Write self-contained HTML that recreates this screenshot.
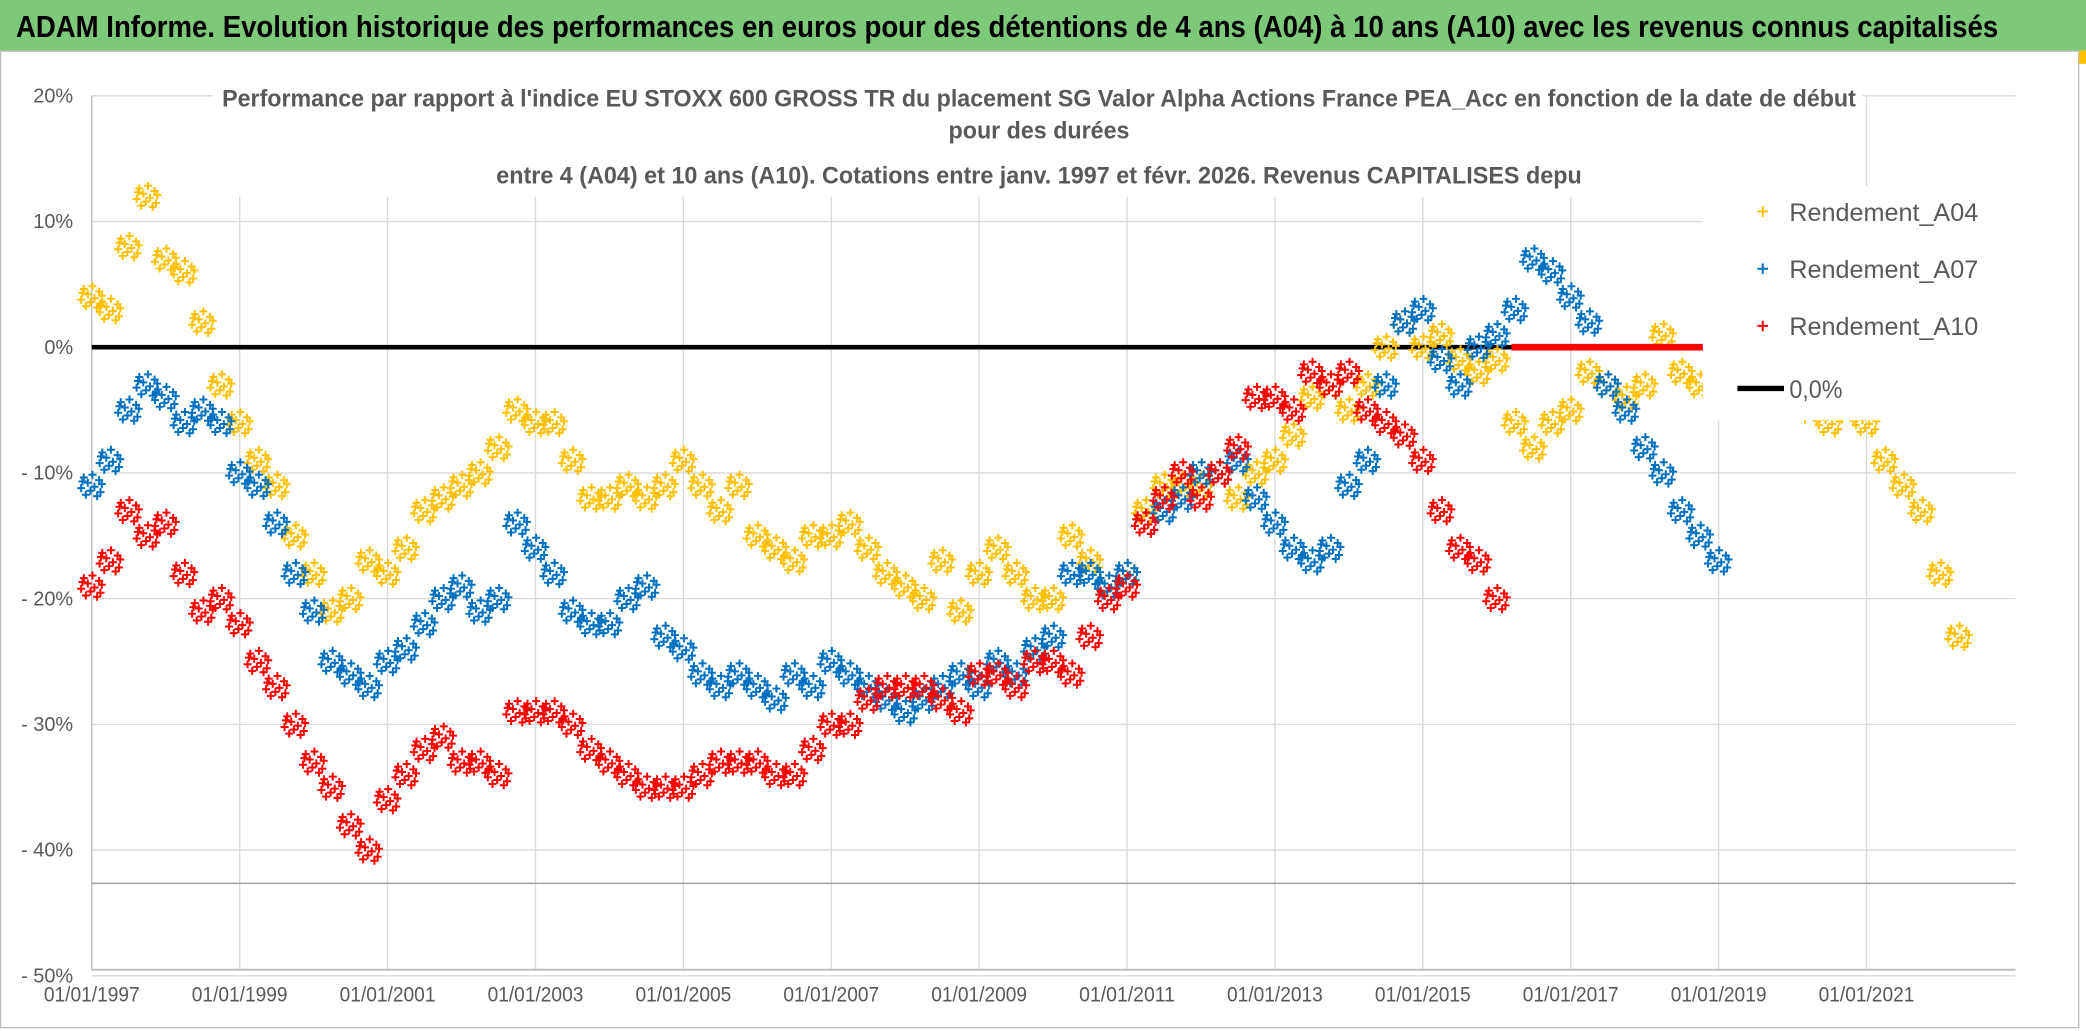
<!DOCTYPE html>
<html><head><meta charset="utf-8"><style>
html,body{margin:0;padding:0;background:#fff;overflow:hidden}
svg{display:block}
text{font-family:"Liberation Sans Narrow","Liberation Sans",sans-serif}
</style></head><body>
<svg id="chart" width="2086" height="1031" viewBox="0 0 1568 775" preserveAspectRatio="none" xmlns="http://www.w3.org/2000/svg">
<rect x="0" y="0" width="1568" height="775" fill="#fff"/>
<rect x="0" y="0" width="1568" height="38" fill="#7ec87a"/>
<text x="12" y="28" font-size="23" font-weight="bold" fill="#000" textLength="1490" lengthAdjust="spacingAndGlyphs">ADAM Informe. Evolution historique des performances en euros pour des détentions de 4 ans (A04) à 10 ans (A10) avec les revenus connus capitalisés</text>
<rect x="1562" y="38" width="6" height="10" fill="#ffc000"/>
<rect x="0.5" y="38.5" width="1562" height="734" fill="none" stroke="#bfbfbf"/>
<g id="grid"></g>
<g id="series"></g>
<rect x="160" y="60" width="1240" height="88" fill="#fff"/>
<g fill="#595959" font-size="18" font-weight="bold" text-anchor="middle">
<text x="781" y="80" textLength="1228" lengthAdjust="spacingAndGlyphs">Performance par rapport à l'indice EU STOXX 600 GROSS TR  du placement SG Valor Alpha Actions France PEA_Acc en fonction de la date de début</text>
<text x="781" y="104" textLength="136" lengthAdjust="spacingAndGlyphs">pour des durées</text>
<text x="781" y="138" textLength="816" lengthAdjust="spacingAndGlyphs">entre 4 (A04) et 10 ans (A10). Cotations entre janv. 1997 et févr. 2026. Revenus CAPITALISES depu</text>
</g>
<g id="legend">
<rect x="1280" y="140" width="236" height="176" fill="#fff"/>
<g><path d="M1321 159h8M1325 155v8" stroke="#ffc000" stroke-width="1.5"/><text x="1345" y="166" font-size="19" fill="#595959" textLength="142" lengthAdjust="spacingAndGlyphs">Rendement_A04</text></g>
<g><path d="M1321 202h8M1325 198v8" stroke="#0070c0" stroke-width="1.5"/><text x="1345" y="209" font-size="19" fill="#595959" textLength="142" lengthAdjust="spacingAndGlyphs">Rendement_A07</text></g>
<g><path d="M1321 245h8M1325 241v8" stroke="#ff0000" stroke-width="1.5"/><text x="1345" y="252" font-size="19" fill="#595959" textLength="142" lengthAdjust="spacingAndGlyphs">Rendement_A10</text></g>
<g><path d="M1306 292h35" stroke="#000" stroke-width="4"/><text x="1345" y="299" font-size="19" fill="#595959" textLength="40" lengthAdjust="spacingAndGlyphs">0,0%</text></g>
</g>
</svg>
<script>
const yTicks=[20,10,0,-10,-20,-30,-40,-50];
const yTickLabels=["20%","10%","0%","- 10%","- 20%","- 30%","- 40%","- 50%"];
const xTickYears=[1997,1999,2001,2003,2005,2007,2009,2011,2013,2015,2017,2019,2021];
const xTickLabels=["01/01/1997","01/01/1999","01/01/2001","01/01/2003","01/01/2005","01/01/2007","01/01/2009","01/01/2011","01/01/2013","01/01/2015","01/01/2017","01/01/2019","01/01/2021"];
const startYear=1997;
const stepYears=0.25;
const a04=[4,3,8,12,7,6,2,-3,-6,-9,-11,-15,-18,-21,-20,-17,-18,-16,-13,-12,-11,-10,-8,-5,-6,-6,-9,-12,-12,-11,-12,-11,-9,-11,-13,-11,-15,-16,-17,-15,-15,-14,-16,-18,-19,-20,-17,-21,-18,-16,-18,-20,-20,-15,-17,-19,-18,-13,-11,-11,-11,-10,-12,-10,-9,-7,-4,-3,-5,-3,0,2,0,1,-1,-2,-1,-6,-8,-6,-5,-2,-3,-4,-3,1,-2,-3,-1,0,-2,-3,-4,-5,-6,-5,-6,-9,-11,-13,-18,-23];
const a07=[-11,-9,-5,-3,-4,-6,-5,-6,-10,-11,-14,-18,-21,-25,-26,-27,-25,-24,-22,-20,-19,-21,-20,-14,-16,-18,-21,-22,-22,-20,-19,-23,-24,-26,-27,-26,-27,-28,-26,-27,-25,-26,-27,-28,-29,-28,-27,-26,-27,-25,-26,-24,-23,-18,-18,-19,-18,-14,-13,-12,-10,-10,-9,-12,-14,-16,-17,-16,-11,-9,-3,2,3,-1,-3,0,1,3,7,6,4,2,-3,-5,-8,-10,-13,-15,-17];
const a10=[-19,-17,-13,-15,-14,-18,-21,-20,-22,-25,-27,-30,-33,-35,-38,-40,-36,-34,-32,-31,-33,-33,-34,-29,-29,-29,-30,-32,-33,-34,-35,-35,-35,-34,-33,-33,-33,-34,-34,-32,-30,-30,-28,-27,-27,-27,-28,-29,-26,-26,-27,-25,-25,-26,-23,-20,-19,-14,-12,-10,-12,-10,-8,-4,-4,-5,-2,-3,-2,-5,-6,-7,-9,-13,-16,-17,-20];
const a10ZeroStart=2016.2;

const X0=69,X1=1515,Y0=729,YTOP=72;
function xs(year){return X0+(year-1997)*(1403-69)/24;}
function ys(v){return 261-v*(261-YTOP)/20;}
const NS="http://www.w3.org/2000/svg";
const grid=document.getElementById('grid');
function mk(tag,attrs,parent){const e=document.createElementNS(NS,tag);for(const k in attrs)e.setAttribute(k,attrs[k]);parent.appendChild(e);return e;}
yTicks.forEach((v,i)=>{
  const l=mk('line',{x1:X0,x2:X1,y1:ys(v),y2:ys(v),stroke:'#d9d9d9','stroke-width':1},grid);
  
  
  const t=mk('text',{x:55,y:ys(v)+5,'font-size':15,fill:'#595959','text-anchor':'end'},grid);
  t.textContent=yTickLabels[i];
  
  
});
xTickYears.forEach((yr,i)=>{
  const l=mk('line',{x1:xs(yr),x2:xs(yr),y1:YTOP,y2:Y0,stroke:'#d9d9d9','stroke-width':1},grid);
  
  
  const t=mk('text',{x:xs(yr),y:753,'font-size':16,fill:'#595959','text-anchor':'middle',textLength:72,lengthAdjust:'spacingAndGlyphs'},grid);
  t.textContent=xTickLabels[i];
  
  
});
const ax=mk('line',{x1:X0,x2:X1,y1:Y0,y2:Y0,stroke:'#bfbfbf','stroke-width':1.5},grid);


const ax2=mk('line',{x1:X0,x2:X0,y1:YTOP,y2:Y0,stroke:'#bfbfbf','stroke-width':1},grid);


const ref=mk('line',{x1:X0,x2:X1,y1:664,y2:664,stroke:'#a6a6a6','stroke-width':1.2},grid);



const series=document.getElementById('series');
const z=mk('line',{x1:X0,x2:xs(a10ZeroStart),y1:ys(0),y2:ys(0),stroke:'#000','stroke-width':3.5},series);


const dx=[-8,-6,-4.5,-3,-1,0.5,2,4,5.5,7.5,-7,6.5];
const dy=[2,-6,7,-2,4,-8,1,8,-4,-1,-3,5];
function draw(vals,color,name){
  let d='';
  vals.forEach((v,i)=>{
    const cx=xs(startYear+i*stepYears),cy=ys(v);
    for(let k=0;k<dx.length;k++){
      const px=cx+dx[k],py=cy+dy[k];
      d+='M'+(px-3).toFixed(1)+' '+py.toFixed(1)+'h6M'+px.toFixed(1)+' '+(py-3).toFixed(1)+'v6';
    }
  });
  const p=mk('path',{d:d,stroke:color,'stroke-width':1.5,fill:'none'},series);
  
  
}
draw(a04,'#ffc000','series-a04');
draw(a07,'#0070c0','series-a07');
draw(a10,'#ff0000','series-a10');
const rz=mk('line',{x1:xs(a10ZeroStart),x2:X1,y1:ys(0),y2:ys(0),stroke:'#ff0000','stroke-width':5},series);


</script>
</body></html>
